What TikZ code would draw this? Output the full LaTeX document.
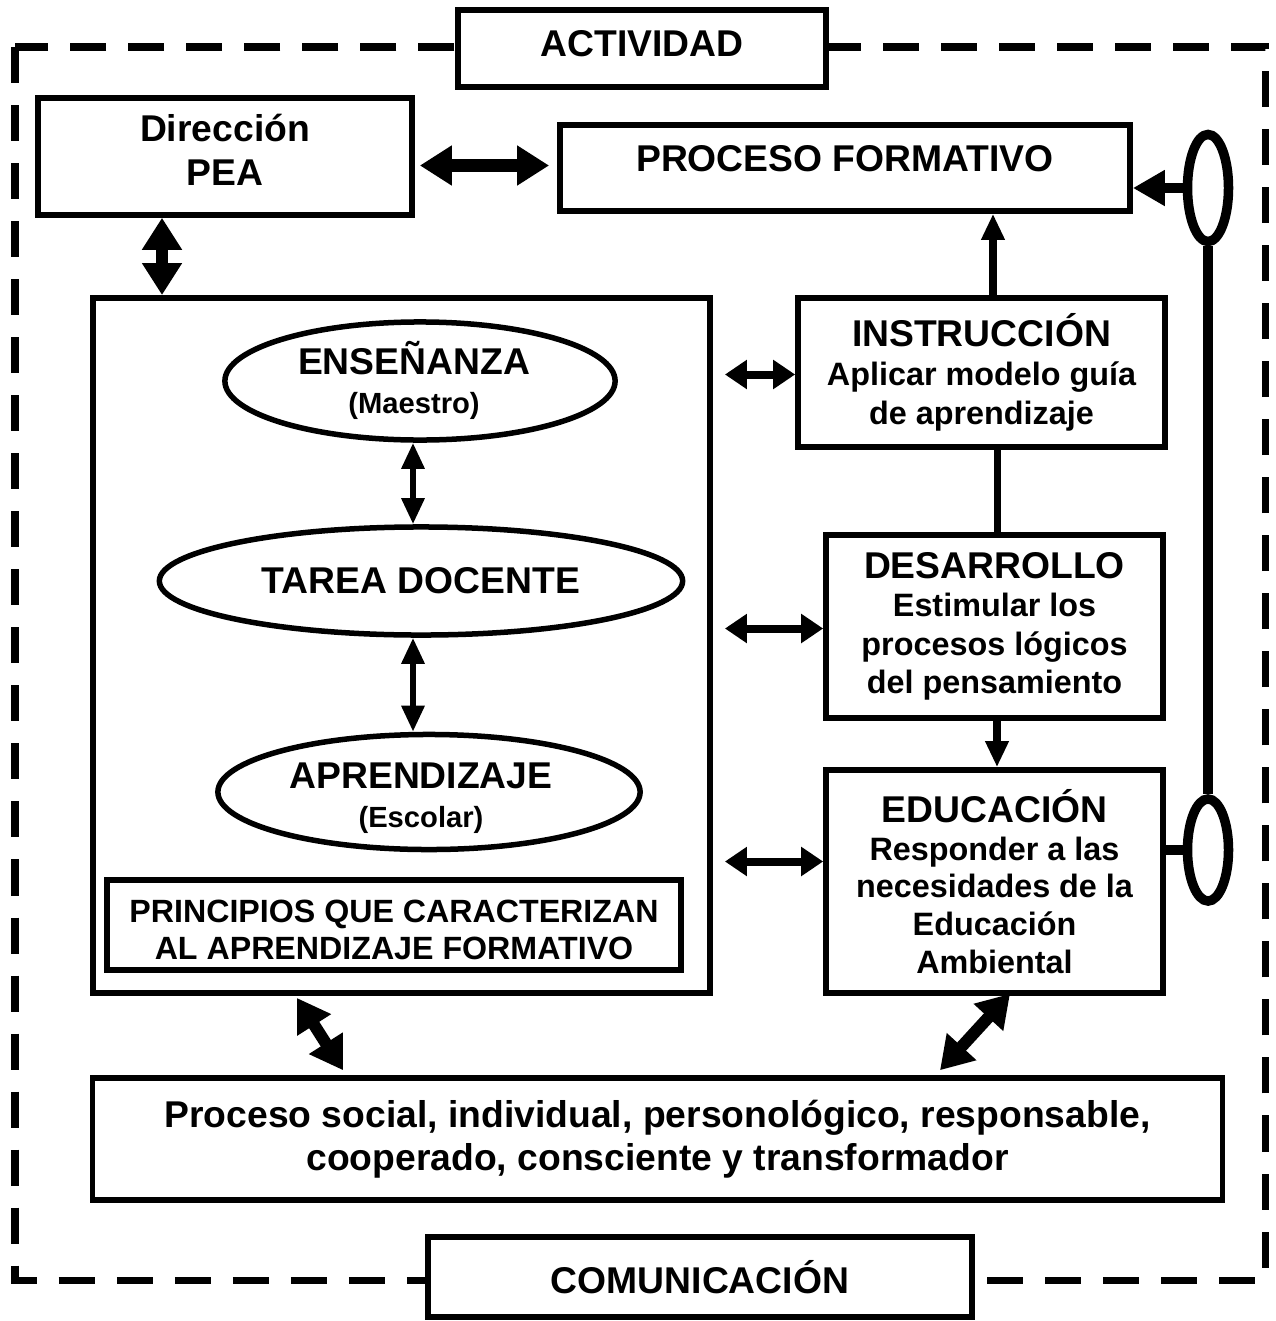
\documentclass[tikz,border=0pt]{standalone}
\usepackage{fontspec}
\setmainfont{Liberation Sans}
\usetikzlibrary{arrows.meta,shapes.geometric,calc}
\newcommand\bigf{\fontsize{10.6}{11.1}\selectfont\bfseries}
\newcommand\medf{\fontsize{9.15}{10.2}\selectfont\bfseries}
\newcommand\smf{\fontsize{8.3}{9}\selectfont\bfseries}
\newcommand\ttl[1]{{\fontsize{10.6}{11}\selectfont #1}}
\begin{document}
\begin{tikzpicture}[x=0.01cm,y=-0.01cm,
  box/.style={draw,line width=0.055cm,fill=white,inner sep=0pt,align=center,font=\bigf},
  ell/.style={draw,ellipse,line width=0.055cm,inner sep=0pt,align=center,font=\bigf},
  oval/.style={draw,ellipse,line width=0.095cm,inner sep=0pt},
  lbl/.style={inner sep=0pt,align=center,font=\bigf},
  frame/.style={line width=0.07cm,dash pattern=on 0.36cm off 0.22cm},
  bigarr/.style={line width=0.12cm,{Triangle[length=0.32cm,width=0.38cm]}-{Triangle[length=0.32cm,width=0.38cm]}},
  midarr/.style={line width=0.08cm,{Triangle[length=0.22cm,width=0.28cm]}-{Triangle[length=0.22cm,width=0.28cm]}},
  thinarr/.style={line width=0.06cm,{Triangle[length=0.26cm,width=0.22cm]}-{Triangle[length=0.26cm,width=0.22cm]}},
  uparr/.style={line width=0.08cm,-{Triangle[length=0.26cm,width=0.22cm]}},
  ovarr/.style={line width=0.10cm,-{Triangle[length=0.32cm,width=0.34cm]}},
  plain/.style={line width=0.07cm}]
\useasboundingbox (0,0) rectangle (1275,1321);
\fill[white] (0,0) rectangle (1275,1321);
\draw[frame] (15,47) rectangle (1265,1280);

\node[box,minimum width=3.68cm,minimum height=0.77cm] (act) at (642,48.5) {};
\node[lbl] at (642,44) {ACTIVIDAD};
\node[box,minimum width=5.44cm,minimum height=0.80cm] (com) at (700,1277) {COMUNICACIÓN};

\node[box,minimum width=3.74cm,minimum height=1.17cm] (dir) at (225,156.5) {};
\node[lbl,font=\fontsize{10.6}{12.5}\selectfont\bfseries] at (225,150) {Dirección\\PEA};
\node[box,minimum width=5.70cm,minimum height=0.86cm] (proc) at (845,168) {};
\node[lbl] at (845,159) {PROCESO FORMATIVO};

\node[box,minimum width=6.17cm,minimum height=6.95cm] (big) at (401.5,645.5) {};
\node[ell,minimum width=3.90cm,minimum height=1.18cm] (ens) at (420,381) {};
\node[lbl] at (414,380) {ENSEÑANZA\\[0pt]{\smf (Maestro)}};
\node[ell,minimum width=5.23cm,minimum height=1.08cm] (tar) at (421,581) {TAREA DOCENTE};
\node[ell,minimum width=4.22cm,minimum height=1.15cm] (apr) at (429,792) {};
\node[lbl] at (421,798) {APRENDIZAJE\\[0pt]{\smf (Escolar)}};
\node[box,minimum width=5.74cm,minimum height=0.90cm,font=\medf] (pri) at (394,925) {};
\node[lbl,font=\fontsize{9.15}{10.3}\selectfont\bfseries] at (394,930) {PRINCIPIOS QUE CARACTERIZAN\\AL APRENDIZAJE FORMATIVO};

\node[box,minimum width=3.67cm,minimum height=1.49cm,font=\fontsize{9.2}{11.1}\selectfont\bfseries] (ins) at (981.5,372.5) {\ttl{INSTRUCCIÓN}\\Aplicar modelo guía\\de aprendizaje};
\node[box,minimum width=3.37cm,minimum height=1.83cm,font=\fontsize{9.2}{10.95}\selectfont\bfseries] (des) at (994.5,626.5) {\ttl{DESARROLLO}\\Estimular los\\procesos lógicos\\del pensamiento};
\node[box,minimum width=3.37cm,minimum height=2.23cm,font=\fontsize{9.2}{10.7}\selectfont\bfseries] (edu) at (994.5,881.5) {\ttl{EDUCACIÓN}\\Responder a las\\necesidades de la\\Educación\\Ambiental};

\node[box,minimum width=11.29cm,minimum height=1.22cm,font=\fontsize{10.6}{12.2}\selectfont\bfseries] (soc) at (657.5,1139) {Proceso social, individual, personológico, responsable,\\cooperado, consciente y transformador};

\node[oval,minimum width=0.41cm,minimum height=1.07cm] (ov1) at (1208,188) {};
\node[oval,minimum width=0.41cm,minimum height=1.02cm] (ov2) at (1208,850) {};

% connectors
\draw[line width=0.10cm] (ov1.south) -- (ov2.north);
\draw[ovarr] (ov1.west) -- (ov1.west -| proc.east);
\draw[line width=0.10cm] (ov2.west -| edu.east) -- (ov2.west);

\draw[bigarr] ($(dir.east)+(5,9)$) -- ($(proc.west |- dir.east)+(-8,9)$);
\draw[bigarr] (dir.south -| 162,0) -- (big.north -| 162,0);

\draw[uparr] (ins.north -| 993,0) -- (proc.south -| 993,0);
\draw[plain] (ins.south -| 997,0) -- (des.north -| 997,0);
\draw[uparr] (des.south -| 997,0) -- (edu.north -| 997,0);

\draw[thinarr] (ens.south -| 413,0) -- (tar.north -| 413,0);
\draw[thinarr] (tar.south -| 413,0) -- (apr.north -| 413,0);

\coordinate (c1) at ($(big.east |- ins.west)+(12,2)$);
\coordinate (c2) at ($(big.east |- des.west)+(12,2)$);
\coordinate (c3) at ($(big.east)+(12,216)$);
\draw[midarr] (c1) -- (c1 -| ins.west);
\draw[midarr] (c2) -- (c2 -| des.west);
\draw[midarr] (c3) -- (c3 -| edu.west);

\draw[bigarr] ($(big.south -| 297,0)+(0,2)$) -- ($(soc.north -| 343,0)+(0,-5)$);
\draw[bigarr] ($(edu.south -| 1010,0)+(0,-2)$) -- ($(soc.north -| 940,0)+(0,-5)$);
\end{tikzpicture}
\end{document}
